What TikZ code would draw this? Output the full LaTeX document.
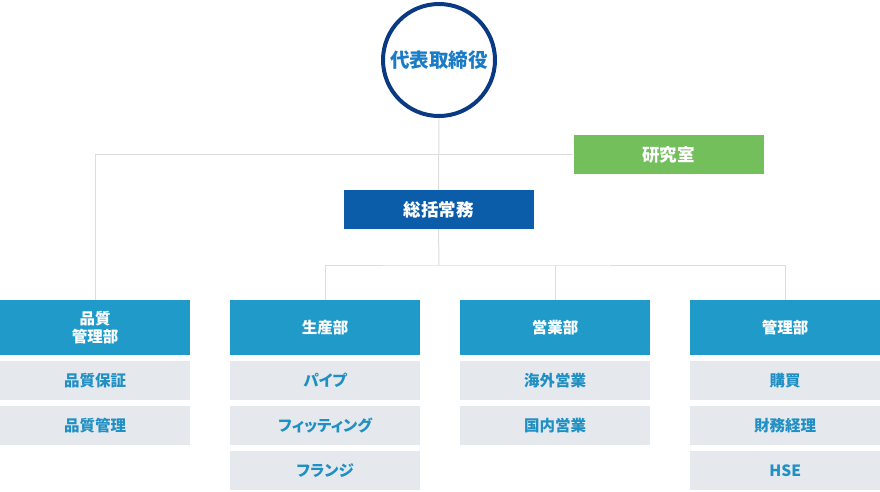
\documentclass[tikz,border=0pt]{standalone}
\usepackage{fontspec}
\setmainfont{Noto Sans CJK JP}[RawFeature=+palt]
\definecolor{ceoring}{HTML}{0B3A84}
\definecolor{ceotext}{HTML}{1A7CC6}
\definecolor{gmblue}{HTML}{0B5DA9}
\definecolor{labgreen}{HTML}{72BF5B}
\definecolor{deptblue}{HTML}{1F9AC9}
\definecolor{subgray}{HTML}{E5E9EE}
\definecolor{subtext}{HTML}{2090C4}
\definecolor{linegray}{HTML}{DDDDDD}

\begin{document}
\begin{tikzpicture}[x=1pt,y=-1pt,
  line/.style={draw=linegray,line width=1pt},
  topbox/.style={text=white,minimum width=190pt,minimum height=39pt,inner sep=0pt,font=\bfseries\fontsize{17.5}{19}\selectfont},
  dept/.style={fill=deptblue,text=white,minimum width=190pt,minimum height=55pt,inner sep=0pt,align=center,anchor=north west,font=\bfseries\fontsize{15.5}{18}\selectfont},
  subbox/.style={fill=subgray,text=subtext,minimum width=190pt,minimum height=39pt,inner sep=0pt,anchor=north west,font=\bfseries\fontsize{15.5}{17}\selectfont}]
\useasboundingbox (0,0) rectangle (880,491);

\node[circle,draw=ceoring,line width=4pt,fill=white,minimum size=112pt,inner sep=0pt,text=ceotext,font=\bfseries\fontsize{19.5}{21}\selectfont] (ceo) at (439,60) {代表取締役};
\node[topbox,fill=labgreen] (lab) at (668.5,154.5) {研究室};
\node[topbox,fill=gmblue] (gm) at (438.5,209.5) {総括常務};

% departments and their sections
\foreach \dname/\dx/\dtext/\subs in {qa/0/{品質\\管理部}/{品質保証,品質管理},
    prod/230/{生産部}/{パイプ,フィッティング,フランジ},
    sales/460/{営業部}/{海外営業,国内営業},
    admin/690/{管理部}/{購買,財務経理,HSE}} {
  \node[dept] (\dname) at (\dx,300) {\dtext};
  \foreach \s [count=\i] in \subs
    \node[subbox] (\dname-\i) at (\dx,{361+45*(\i-1)}) {\s};
}

\coordinate (bar) at (439,265);
\draw[line] (ceo.south) -- (gm.north);
\draw[line] (qa.north) |- (lab.west);
\draw[line] (gm.south) -- (bar);
\draw[line] (prod.north) |- (bar) -| (admin.north);
\draw[line] (sales.north) -- (sales.north |- bar);
\end{tikzpicture}
\end{document}
